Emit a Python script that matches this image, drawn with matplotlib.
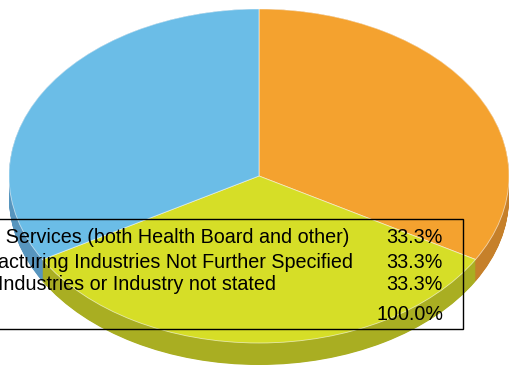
import numpy as np
import matplotlib
matplotlib.use('Agg')
from matplotlib import pyplot as plt
from matplotlib.patches import Rectangle

# Slice data
labels = ['Health Services (both Health Board and other)',
          'Manufacturing Industries Not Further Specified',
          'Other Industries or Industry not stated']
values = [1, 1, 1]
top_colors = ['#F4A22F', '#D6DE27', '#6BBDE7']
side_colors = ['#C6802A', '#A9AE22', '#5795BE']

plt.rcParams['font.family'] = ['Liberation Sans', 'DejaVu Sans']

W, H = 509, 366
fig = plt.figure(figsize=(W / 100, H / 100), dpi=100)
ax = fig.add_axes([0, 0, 1, 1])

# ellipse geometry in pixels
cx, cy = 259, 176      # centre (from top)
rx, ry = 250, 167      # radii
depth = 22             # thickness of the pie side

# side: stack of darker copies shifted downwards
d = depth / ry
for off in np.linspace(d, 0, 40):
    ax.pie(values, colors=side_colors, startangle=90, counterclock=False,
           center=(0, -off), radius=1, wedgeprops=dict(linewidth=0))

# top face
ax.pie(values, colors=top_colors, startangle=90, counterclock=False,
       center=(0, 0), radius=1,
       wedgeprops=dict(linewidth=0.6, edgecolor=(1, 1, 1, 0.6)))

# squash the circle into an ellipse
ax.set_aspect('auto')
ax.set_xlim(-cx / rx, (W - cx) / rx)
ax.set_ylim(-(H - cy) / ry, cy / ry)
ax.axis('off')

# legend table with percentages
total = sum(values)
pct = [100.0 * v / total for v in values]
px = lambda x, y: (x / W, 1 - y / H)

rows_y = [238, 262, 285]
for lab, p, y in zip(labels, pct, rows_y):
    fig.text(*px(-57, y), lab, fontsize=14.2, va='center', ha='left', color='black')
    fig.text(*px(443, y), f'{p:.1f}%', fontsize=14.2, va='center', ha='right', color='black')
fig.text(*px(443, 315), f'{sum(pct):.1f}%', fontsize=14.2, va='center', ha='right', color='black')

fig.patches.append(Rectangle(px(-70, 329), (462.5 + 70) / W, (329 - 218.5) / H,
                             transform=fig.transFigure, fill=False,
                             edgecolor='black', linewidth=1.0))

fig.savefig('out.png', dpi=100)
